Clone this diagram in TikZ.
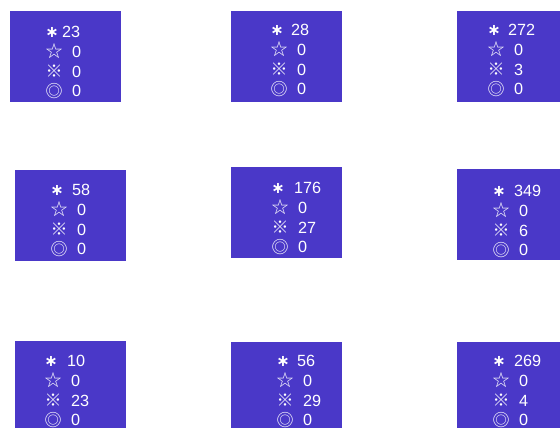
\documentclass[tikz,border=0pt]{standalone}
\usepackage{fontspec}
\setmainfont{Liberation Sans}
\newfontfamily\symf{Noto Sans CJK SC}
\newfontfamily\astf{DejaVu Sans}
\definecolor{boxblue}{RGB}{74,56,200}
\tikzset{
  panel/.style={fill=boxblue, draw=none, inner sep=0pt, outer sep=0pt,
    minimum width=111pt, minimum height=91pt, anchor=north west},
  sym/.style={text=white, font=\symf\fontsize{17}{17}\selectfont, inner sep=0pt,
    text height=12pt, text depth=0pt, anchor=center},
  ast/.style={text=white, font=\astf\bfseries\fontsize{16}{16}\selectfont, inner sep=0pt,
    text height=11pt, text depth=0pt, anchor=center},
  num/.style={text=white, font=\fontsize{16.2}{16.2}\selectfont, inner sep=0pt,
    text height=11.6pt, text depth=0pt, anchor=west}
}
\newcommand\mypanel[8]{%
  \node[panel] (#1) at (#2,#3) {};
  \begin{scope}[shift={(#4,#5)}]
    \node[ast] (#1s1) at (6,0) {∗};
    \node[num] (#1n1) at (#7,0) {#6};
    \node[sym] (#1s2) at (8,19.7) {☆};
    \node[num] (#1n2) at (26,19.7) {0};
    \node[sym] (#1s3) at (8,39.4) {※};
    \node[num] (#1n3) at (26,39.4) {#8};
    \node[sym] (#1s4) at (8,59.1) {◎};
    \node[num] (#1n4) at (26,59.1) {0};
  \end{scope}
}
\begin{document}
\begin{tikzpicture}[x=1pt,y=-1pt]
  \useasboundingbox (0,0) rectangle (560,428);
  \clip (0,0) rectangle (560,428);
  \mypanel{b1}{10}{11}{46}{32}{23}{16}{0}
  \mypanel{b2}{231}{11}{271}{30}{28}{20}{0}
  \mypanel{b3}{457}{11}{488}{30}{272}{20}{3}
  \mypanel{b4}{15}{170}{51}{190}{58}{21}{0}
  \mypanel{b5}{231}{167}{272}{188}{176}{22}{27}
  \mypanel{b6}{457}{169}{493}{191}{349}{21}{6}
  \mypanel{b7}{15}{341}{45}{361}{10}{22}{23}
  \mypanel{b8}{231}{342}{277}{361}{56}{20}{29}
  \mypanel{b9}{457}{342}{493}{361}{269}{21}{4}
\end{tikzpicture}
\end{document}
